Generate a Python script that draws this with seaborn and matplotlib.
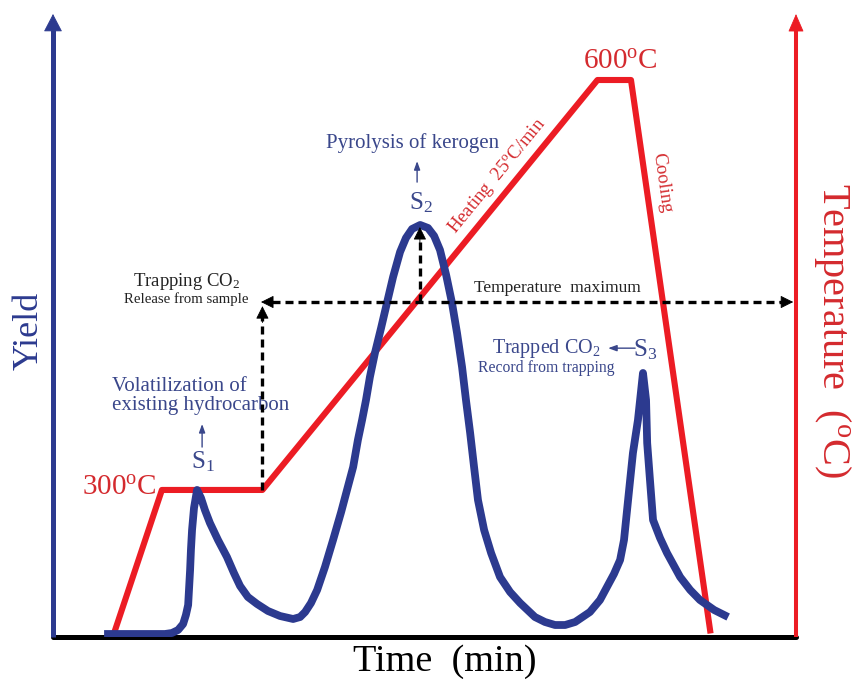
import matplotlib
matplotlib.use("Agg")
import matplotlib.pyplot as plt
import seaborn as sns
import pandas as pd

# ---------------- data ----------------
# Yield signal (arbitrary units, S2 peak = 100) against time (min)
yield_time = [1.83, 4.01, 4.26, 4.48, 4.66, 4.76, 4.84, 4.87, 4.91, 4.94,
              4.98, 5.05, 5.16, 5.30, 5.44, 5.62, 5.91, 6.23, 6.48, 6.70,
              6.98, 7.31, 7.70, 8.13, 8.60, 8.85, 9.03, 9.24, 9.46, 9.74,
              10.03, 10.32, 10.53, 10.75, 10.92, 11.07, 11.21, 11.35, 11.53, 11.75,
              11.96, 12.18, 12.43, 12.64, 12.86, 13.15, 13.43, 13.65, 13.86, 14.08,
              14.29, 14.47, 14.65, 14.79, 14.94, 15.08, 15.22, 15.44, 15.69, 16.01,
              16.37, 16.73, 17.26, 17.62, 17.98, 18.34, 18.70, 19.23, 19.59, 19.84,
              20.09, 20.31, 20.45, 20.56, 20.67, 20.77, 20.95, 21.13, 21.24, 21.28,
              21.38, 21.49, 21.74, 21.99, 22.46, 22.82, 23.17, 23.68, 24.18]
yield_values = [0.73, 0.73, 0.97, 1.70, 3.16, 5.34, 7.77, 11.41, 16.26, 21.12,
                25.97, 31.31, 35.68, 33.74, 30.83, 27.67, 23.54, 19.42, 15.53, 12.38,
                9.71, 8.01, 6.31, 5.10, 4.37, 4.85, 6.07, 8.25, 11.41, 16.99,
                23.54, 30.34, 35.68, 41.26, 47.82, 52.67, 57.52, 63.11, 68.93, 75.00,
                81.07, 87.38, 93.45, 96.84, 99.03, 100.0, 99.27, 97.33, 93.93, 87.86,
                81.07, 73.79, 65.53, 57.52, 49.51, 41.26, 33.25, 25.97, 20.39, 14.56,
                10.92, 8.25, 4.85, 3.64, 2.91, 2.91, 3.64, 6.07, 8.98, 12.14,
                15.29, 18.69, 23.54, 30.83, 38.11, 44.66, 52.67, 64.08, 57.52, 47.09,
                38.11, 28.40, 24.03, 20.39, 14.56, 11.41, 8.98, 6.55, 4.85]

# Temperature programme (°C) against time (min)
temp_time = [2.2, 3.9, 7.5, 19.5, 20.7, 23.55]
temp_values = [196, 300, 300, 600, 600, 195]

# axis extents
time_max = 26.61
yield_max = 151.2
temp_lo, temp_hi = 192.4, 648.3

# annotation anchors (data units)
trap_time = 7.5        # end of the 300 °C plateau
trap_level = 81.3      # level of the "temperature maximum" line
s1_time, s1_peak = 5.16, 35.7
s2_time, s2_peak = 13.14, 100.0
s3_time, s3_peak = 21.13, 64.1

BLUE = "#2c3a8f"
BLUE_TXT = "#3a478b"
RED = "#ec1c24"
RED_TXT = "#d42a2e"

sns.set_style("white")
plt.rcParams["font.family"] = ["Liberation Serif", "DejaVu Serif"]
plt.rcParams["mathtext.fontset"] = "custom"
plt.rcParams["mathtext.rm"] = "Liberation Serif"
plt.rcParams["mathtext.it"] = "Liberation Serif:italic"
plt.rcParams["mathtext.default"] = "regular"

W, H = 856, 682
fig = plt.figure(figsize=(W / 100, H / 100), dpi=100)
ax = fig.add_axes([53 / W, 45 / H, (796 - 53) / W, (637 - 14) / H])
ax2 = ax.twinx()
ax.set_zorder(ax2.get_zorder() + 1)
ax.patch.set_visible(False)

ax.set_xlim(0, time_max)
ax.set_ylim(0, yield_max)
ax2.set_ylim(temp_lo, temp_hi)

# ---------------- curves ----------------
df_temp = pd.DataFrame({"time": temp_time, "temp": temp_values})
sns.lineplot(data=df_temp, x="time", y="temp", ax=ax2, color=RED, lw=4.4,
             sort=False, estimator=None, solid_joinstyle="round",
             solid_capstyle="butt")

df_yield = pd.DataFrame({"time": yield_time, "yield": yield_values})
sns.lineplot(data=df_yield, x="time", y="yield", ax=ax, color=BLUE, lw=5.6,
             sort=False, estimator=None, solid_joinstyle="round",
             solid_capstyle="butt")
ax.set_xlim(0, time_max)
ax.set_ylim(0, yield_max)
ax2.set_ylim(temp_lo, temp_hi)
for a in (ax, ax2):
    for s in a.spines.values():
        s.set_visible(False)
    a.set_xlabel("")
    a.set_ylabel("")
    a.set_xticks([])
    a.set_yticks([])

# ---------------- axes: baseline + arrows ----------------
ax.axhline(0, color="black", lw=3.6, zorder=1, clip_on=False)


def head(a, tip, tail, color, hl, hw, ms=10, coords="data"):
    a.annotate("", xy=tip, xytext=tail, xycoords=coords, textcoords=coords,
               arrowprops=dict(arrowstyle=f"-|>,head_length={hl},head_width={hw}",
                               color=color, lw=0.6, shrinkA=0, shrinkB=0),
               annotation_clip=False, zorder=6)


ax.plot([0, 0], [0, 0.975], transform=ax.transAxes, color=BLUE, lw=3.6,
        clip_on=False, solid_capstyle="butt")
head(ax, (0, 1), (0, 0.95), BLUE, 1.15, 0.6, coords="axes fraction")
ax.plot([1, 1], [0, 0.975], transform=ax.transAxes, color=RED, lw=2.9,
        clip_on=False, solid_capstyle="butt")
head(ax, (1, 1), (1, 0.95), RED, 1.15, 0.5, coords="axes fraction")

# ---------------- dashed arrows ----------------
dash = dict(color="black", lw=2.4, ls=(0, (2.4, 1.5)), zorder=5,
            solid_capstyle="butt")
ax.plot([trap_time, trap_time], [s1_peak, trap_level - 3], **dash)
ax.plot([trap_time + 0.35, time_max - 0.5], [trap_level, trap_level], **dash)
head(ax, (trap_time, trap_level - 1), (trap_time, trap_level - 5), "black", 0.8, 0.4)
head(ax, (trap_time - 0.05, trap_level), (trap_time + 0.5, trap_level), "black", 0.8, 0.4)
head(ax, (time_max - 0.1, trap_level), (time_max - 0.6, trap_level), "black", 0.8, 0.4)
ax.plot([s2_time, s2_time], [trap_level, s2_peak - 3.5], **dash)
head(ax, (s2_time, s2_peak - 0.5), (s2_time, s2_peak - 5), "black", 0.8, 0.4)

# ---------------- blue annotations ----------------
thin = dict(arrowstyle="-|>,head_length=0.5,head_width=0.18", color=BLUE_TXT,
            lw=1.0, shrinkA=0, shrinkB=0)
ax.text(s2_time - 0.28, 119.9, "Pyrolysis of kerogen", color=BLUE_TXT,
        fontsize=15, ha="center", va="center")
ax.annotate("", xy=(s2_time - 0.1, 115.5), xytext=(s2_time - 0.1, 110.4), arrowprops=thin)
ax.text(s2_time + 0.04, 105.3, "S$_2$", color=BLUE_TXT, fontsize=18,
        ha="center", va="center")

ax.text(2.11, 58.5, "Volatilization of\nexisting hydrocarbon", color=BLUE_TXT,
        fontsize=15, ha="left", va="center", linespacing=1.05)
ax.annotate("", xy=(s1_time + 0.18, 51.7), xytext=(s1_time + 0.18, 46.1), arrowprops=thin)
ax.text(s1_time + 0.21, 42.5, "S$_1$", color=BLUE_TXT, fontsize=18,
        ha="center", va="center")

ax.text(17.66, 69.9, "Trapped CO$_2$", color=BLUE_TXT, fontsize=14.5,
        ha="center", va="center")
ax.text(17.66, 65.3, "Record from trapping", color=BLUE_TXT, fontsize=11.3,
        ha="center", va="center")
ax.annotate("", xy=(19.88, 70.1), xytext=(20.85, 70.1), arrowprops=thin)
ax.text(s3_time + 0.07, 69.7, "S$_3$", color=BLUE_TXT, fontsize=18,
        ha="center", va="center")

# ---------------- black annotations ----------------
ax.text(4.80, 86.2, "Trapping CO$_2$", color="#222222", fontsize=13.5,
        ha="center", va="center")
ax.text(4.76, 82.1, "Release from sample", color="#222222", fontsize=10.6,
        ha="center", va="center")
ax.text(18.05, 84.7, "Temperature  maximum", color="#222222", fontsize=12.5,
        ha="center", va="center")

# ---------------- red annotations ----------------
ax2.text(3.72, 301.4, "300$^{o}$C", color=RED_TXT, fontsize=21, ha="right", va="center")
ax2.text(20.31, 613.1, "600$^{o}$C", color=RED_TXT, fontsize=21, ha="center", va="center")
ax2.text(15.90, 529.7, "Heating  25$^{o}$C/min", color=RED_TXT, fontsize=13.5,
         ha="center", va="center", rotation=50.7, rotation_mode="anchor")
ax2.text(21.81, 524.6, "Cooling", color=RED_TXT, fontsize=13.5,
         ha="center", va="center", rotation=-81.9, rotation_mode="anchor")

# ---------------- axis titles ----------------
fig.text(29 / W, 1 - 331 / H, "Yield", color=BLUE, fontsize=26, rotation=90,
         ha="center", va="center")
fig.text(833 / W, 1 - 330 / H, "Temperature  ($^{o}$C)", color=RED_TXT, fontsize=29,
         rotation=-90, ha="center", va="center")
fig.text(445 / W, 1 - 662 / H, "Time  (min)", color="black", fontsize=27.5,
         ha="center", va="center")

fig.savefig("out.png", dpi=100, facecolor="white")
